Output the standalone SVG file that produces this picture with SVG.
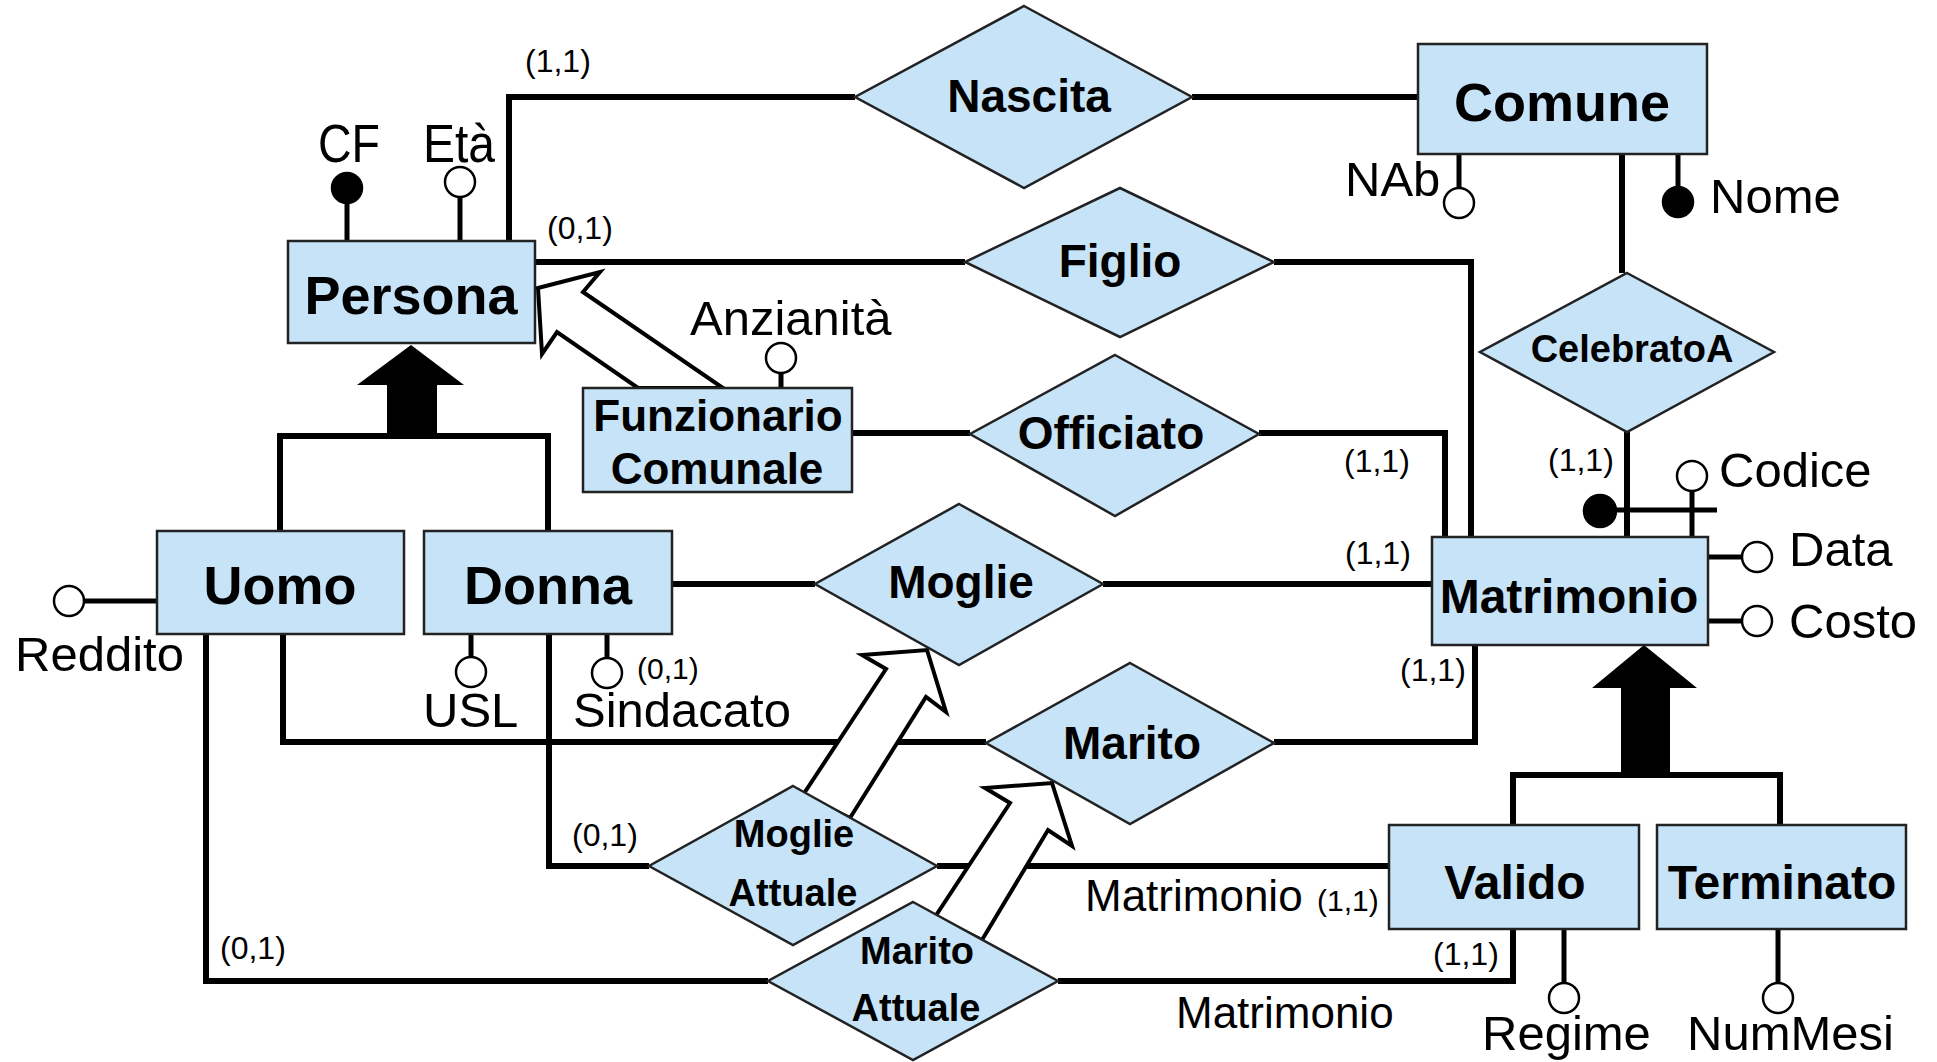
<svg xmlns="http://www.w3.org/2000/svg" width="1937" height="1062" viewBox="0 0 1937 1062">
<style>
text { font-family: "Liberation Sans", Arial, Helvetica, sans-serif; fill:#000; }
.box { fill:#c6e3f7; stroke:#222; stroke-width:2.5; }
.ln { fill:none; stroke:#000; stroke-width:6; stroke-linejoin:miter; }
.stem { fill:none; stroke:#000; stroke-width:5; }
.ao { fill:#fff; stroke:#000; stroke-width:2.5; }
.af { fill:#000; stroke:#000; stroke-width:2.5; }
.isa { fill:#000; }
.hollow { fill:#fff; stroke:#000; stroke-width:4; stroke-linejoin:miter; }
.eb { font-size:54px; font-weight:bold; text-anchor:middle; }
.es { font-size:48px; font-weight:bold; text-anchor:middle; }
.rb { font-size:46px; font-weight:bold; text-anchor:middle; }
.rs { font-size:38px; font-weight:bold; text-anchor:middle; }
.fz { font-size:44px; font-weight:bold; text-anchor:middle; }
.at { font-size:49px; }
.at2 { font-size:53px; }
.lb { font-size:44px; }
.cd { font-size:32px; }
.cds { font-size:30px; }
</style>

<g id="connectors">
  <path class="ln" d="M509,241 V97 H855"/>
  <path class="ln" d="M1192,97 H1418"/>
  <path class="ln" d="M535,262 H965"/>
  <path class="ln" d="M1274,262 H1471 V537"/>
  <path class="ln" d="M852,433 H970"/>
  <path class="ln" d="M1259,433 H1445 V537"/>
  <path class="ln" d="M1622,154 V273"/>
  <path class="ln" d="M1627,432 V537"/>
  <path class="ln" d="M672,584 H815"/>
  <path class="ln" d="M1103,584 H1432"/>
  <path class="ln" d="M283,634 V742 H986"/>
  <path class="ln" d="M1274,742 H1475 V645"/>
  <path class="ln" d="M549,634 V866 H649"/>
  <path class="ln" d="M937,866 H1390"/>
  <path class="ln" d="M206,634 V981 H768"/>
  <path class="ln" d="M1058,981 H1513 V929"/>
  <!-- generalizations -->
  <path class="ln" d="M280,531 V436 H548 V531"/>
  <polygon class="isa" points="411,345 464,385 437,385 437,436 387,436 387,385 357,385"/>
  <path class="ln" d="M1513,825 V775 H1780 V825"/>
  <polygon class="isa" points="1644,645 1697,688 1670,688 1670,775 1621,775 1621,688 1592,688"/>
  <!-- subset arrows -->
  <polygon class="hollow" points="538,288 600,272 583,292 723,388 638,388 557,332 542,354"/>
  <polygon class="hollow" points="927,650 946,712 926,697 850,818 803,795 886,669 862,655"/>
  <polygon class="hollow" points="1052,783 1072,846 1048,830 982,940 935,917 1010,803 985,788"/>
</g>

<g id="attributes">
  <line class="stem" x1="347" y1="203" x2="347" y2="241"/>
  <circle class="af" cx="347" cy="188" r="15"/>
  <text class="at2" x="318" y="162" textLength="62" lengthAdjust="spacingAndGlyphs">CF</text>
  <line class="stem" x1="460" y1="198" x2="460" y2="241"/>
  <circle class="ao" cx="460" cy="182" r="15"/>
  <text class="at2" x="423" y="162" textLength="72" lengthAdjust="spacingAndGlyphs">Età</text>

  <line class="stem" x1="1459" y1="154" x2="1459" y2="187"/>
  <circle class="ao" cx="1459" cy="203" r="15"/>
  <text class="at" x="1345" y="196">NAb</text>
  <line class="stem" x1="1678" y1="154" x2="1678" y2="186"/>
  <circle class="af" cx="1678" cy="202" r="15"/>
  <text class="at" x="1710" y="213">Nome</text>

  <line class="stem" x1="781" y1="374" x2="781" y2="388"/>
  <circle class="ao" cx="781" cy="358" r="15"/>
  <text class="at" x="690" y="335">Anzianità</text>

  <line class="stem" x1="1600" y1="510" x2="1717" y2="510"/>
  <circle class="af" cx="1600" cy="511" r="16"/>
  <line class="stem" x1="1692" y1="492" x2="1692" y2="537"/>
  <circle class="ao" cx="1692" cy="476" r="15"/>
  <text class="at" x="1719" y="487">Codice</text>

  <line class="stem" x1="1708" y1="557" x2="1741" y2="557"/>
  <circle class="ao" cx="1757" cy="557" r="15"/>
  <text class="at" x="1789" y="566">Data</text>
  <line class="stem" x1="1708" y1="621" x2="1741" y2="621"/>
  <circle class="ao" cx="1757" cy="621" r="15"/>
  <text class="at" x="1789" y="638">Costo</text>

  <line class="stem" x1="85" y1="601" x2="157" y2="601"/>
  <circle class="ao" cx="69" cy="601" r="15"/>
  <text class="at" x="15" y="671">Reddito</text>

  <line class="stem" x1="471" y1="634" x2="471" y2="657"/>
  <circle class="ao" cx="471" cy="672" r="15"/>
  <text class="at" x="423" y="727">USL</text>
  <line class="stem" x1="607" y1="634" x2="607" y2="658"/>
  <circle class="ao" cx="607" cy="673" r="15"/>
  <text class="at" x="573" y="727">Sindacato</text>

  <line class="stem" x1="1564" y1="929" x2="1564" y2="983"/>
  <circle class="ao" cx="1564" cy="998" r="15"/>
  <text class="at" x="1482" y="1050">Regime</text>
  <line class="stem" x1="1778" y1="929" x2="1778" y2="983"/>
  <circle class="ao" cx="1778" cy="998" r="15"/>
  <text class="at" x="1687" y="1050">NumMesi</text>
</g>

<g id="labels">
  <text class="cd" x="525" y="72">(1,1)</text>
  <text class="cd" x="547" y="239">(0,1)</text>
  <text class="cd" x="1344" y="472">(1,1)</text>
  <text class="cd" x="1548" y="471">(1,1)</text>
  <text class="cd" x="1345" y="564">(1,1)</text>
  <text class="cd" x="1400" y="681">(1,1)</text>
  <text class="cds" x="637" y="679">(0,1)</text>
  <text class="cd" x="572" y="846">(0,1)</text>
  <text class="lb" x="1085" y="911">Matrimonio</text>
  <text class="cds" x="1317" y="911">(1,1)</text>
  <text class="cd" x="220" y="959">(0,1)</text>
  <text class="cd" x="1433" y="965">(1,1)</text>
  <text class="lb" x="1176" y="1028">Matrimonio</text>
</g>

<g id="Persona"><rect class="box" x="288" y="241" width="247" height="102"/><text class="eb" x="411" y="314">Persona</text></g>
<g id="Comune"><rect class="box" x="1418" y="44" width="289" height="110"/><text class="eb" x="1562" y="121">Comune</text></g>
<g id="FunzionarioComunale"><rect class="box" x="583" y="388" width="269" height="104"/><text class="fz" x="718" y="431">Funzionario</text><text class="fz" x="717" y="484">Comunale</text></g>
<g id="Uomo"><rect class="box" x="157" y="531" width="247" height="103"/><text class="eb" x="280" y="604">Uomo</text></g>
<g id="Donna"><rect class="box" x="424" y="531" width="248" height="103"/><text class="eb" x="548" y="604">Donna</text></g>
<g id="Matrimonio"><rect class="box" x="1432" y="537" width="276" height="108"/><text class="es" x="1569" y="613">Matrimonio</text></g>
<g id="Valido"><rect class="box" x="1389" y="825" width="250" height="104"/><text class="es" x="1515" y="899">Valido</text></g>
<g id="Terminato"><rect class="box" x="1657" y="825" width="249" height="104"/><text class="es" x="1782" y="899">Terminato</text></g>

<g id="Nascita"><polygon class="box" points="1024,6 1192,97 1024,188 855,97"/><text class="rb" x="1029" y="112">Nascita</text></g>
<g id="Figlio"><polygon class="box" points="1120,188 1274,262 1120,337 965,262"/><text class="rb" x="1120" y="277">Figlio</text></g>
<g id="Officiato"><polygon class="box" points="1115,355 1259,434 1115,516 970,434"/><text class="rb" x="1111" y="449">Officiato</text></g>
<g id="CelebratoA"><polygon class="box" points="1627,273 1774,352 1627,432 1480,352"/><text class="rs" x="1632" y="362">CelebratoA</text></g>
<g id="Moglie"><polygon class="box" points="959,504 1103,584 959,665 815,584"/><text class="rb" x="961" y="598">Moglie</text></g>
<g id="Marito"><polygon class="box" points="1130,663 1274,743 1130,824 986,743"/><text class="rb" x="1132" y="759">Marito</text></g>
<g id="MoglieAttuale"><polygon class="box" points="793,786 937,866 793,945 649,866"/><text class="rs" x="794" y="847">Moglie</text><text class="rs" x="793" y="906">Attuale</text></g>
<g id="MaritoAttuale"><polygon class="box" points="913,902 1058,981 913,1060 768,981"/><text class="rs" x="917" y="964">Marito</text><text class="rs" x="916" y="1021">Attuale</text></g>
</svg>
